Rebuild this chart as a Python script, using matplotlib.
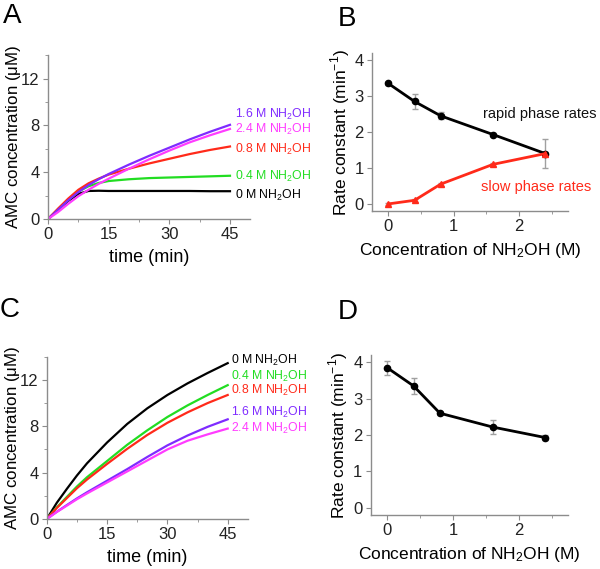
import matplotlib
matplotlib.use("Agg")
import matplotlib.pyplot as plt
from matplotlib.ticker import MultipleLocator

plt.rcParams['font.family'] = ['Liberation Sans', 'DejaVu Sans']
plt.rcParams['mathtext.fontset'] = 'custom'
plt.rcParams['mathtext.rm'] = 'Liberation Sans'

# ---- data ----
conc_labels = ["0 M", "0.4 M", "0.8 M", "1.6 M", "2.4 M"]
curve_colors = ["#000000", "#22dd22", "#ff2a1a", "#7f2bff", "#ff3cff"]

# panel A
t_a = [0, 2.5, 5, 7.5, 10, 12.5, 15, 20, 25, 30, 35, 40, 45]
a_0 = [0, 0.8, 1.55, 2.15, 2.4, 2.42, 2.4, 2.4, 2.4, 2.4, 2.4, 2.38, 2.38]
a_04 = [0, 0.85, 1.65, 2.35, 2.8, 3.08, 3.25, 3.4, 3.5, 3.55, 3.6, 3.65, 3.7]
a_08 = [0, 0.9, 1.75, 2.5, 3.05, 3.45, 3.8, 4.3, 4.75, 5.15, 5.55, 5.9, 6.2]
a_16 = [0, 0.8, 1.6, 2.3, 2.9, 3.4, 3.85, 4.65, 5.4, 6.1, 6.8, 7.45, 8.05]
a_24 = [0, 0.6, 1.3, 1.95, 2.5, 3.0, 3.45, 4.3, 5.1, 5.85, 6.55, 7.15, 7.7]
a_label_y = [2.0, 3.65, 5.95, 8.95, 7.65]

# panel C
t_c = [0, 2.5, 5, 7.5, 10, 15, 20, 25, 30, 35, 40, 45]
c_0 = [0, 1.4, 2.6, 3.75, 4.8, 6.6, 8.2, 9.55, 10.7, 11.7, 12.6, 13.45]
c_04 = [0, 1.0, 1.9, 2.8, 3.6, 5.0, 6.4, 7.65, 8.8, 9.8, 10.7, 11.55]
c_08 = [0, 0.95, 1.8, 2.65, 3.4, 4.75, 6.05, 7.25, 8.3, 9.2, 10.0, 10.7]
c_16 = [0, 0.62, 1.2, 1.77, 2.3, 3.3, 4.3, 5.35, 6.35, 7.2, 7.95, 8.6]
c_24 = [0, 0.6, 1.15, 1.7, 2.2, 3.15, 4.1, 5.05, 6.0, 6.75, 7.3, 7.8]
c_label_y = [13.7, 12.3, 11.1, 9.15, 7.85]

# panels B and D
nh2oh = [0, 0.4, 0.8, 1.6, 2.4]
rapid = [3.35, 2.85, 2.45, 1.93, 1.4]
rapid_err = [0.05, 0.22, 0.1, 0.05, 0.4]
slow = [0.0, 0.1, 0.55, 1.1, 1.4]
slow_err = [0.03, 0.04, 0.04, 0.04, 0.05]
rate_d = [3.85, 3.35, 2.6, 2.22, 1.93]
rate_d_err = [0.2, 0.22, 0.04, 0.18, 0.06]

NH2OH = r"$\mathregular{NH_2OH}$"
AX_GRAY = "#8c8c8c"


def style_axes(ax):
    for s in ["top", "right"]:
        ax.spines[s].set_visible(False)
    for s in ["left", "bottom"]:
        ax.spines[s].set_color(AX_GRAY)
        ax.spines[s].set_linewidth(1.0)
    ax.tick_params(which="both", direction="out", color=AX_GRAY, labelsize=12, labelcolor="#222222")
    ax.tick_params(which="major", length=3.5, pad=2.5)
    ax.tick_params(which="minor", length=2)


def kinetics_panel(ax, t, series, label_y, label_x, ylab_x):
    for ys, c in zip(series, curve_colors):
        ax.plot(t, ys, color=c, lw=1.6)
    for lab, c, y in zip(conc_labels, curve_colors, label_y):
        ax.text(label_x, y, lab + " " + NH2OH, color=c, fontsize=8.8, va="center", ha="left", clip_on=False)
    ax.set_xlim(0, 50)
    ax.set_ylim(0, 14)
    ax.set_xticks([0, 15, 30, 45])
    ax.xaxis.set_minor_locator(MultipleLocator(7.5))
    ax.set_yticks([0, 4, 8, 12])
    ax.yaxis.set_minor_locator(MultipleLocator(2))
    ax.set_xlabel("time (min)", fontsize=13, labelpad=5)
    ax.set_ylabel(r"AMC concentration ($\mathregular{\mu}$M)", fontsize=12.2)
    ax.yaxis.set_label_coords(ylab_x, 0.5)
    style_axes(ax)


def rate_panel(ax):
    ax.set_xlim(-0.25, 2.75)
    ax.set_ylim(-0.2, 4.2)
    ax.set_xticks([0, 1, 2])
    ax.xaxis.set_minor_locator(MultipleLocator(0.5))
    ax.set_yticks([0, 1, 2, 3, 4])
    ax.set_xlabel("Concentration of " + NH2OH + " (M)", fontsize=12.5, labelpad=5)
    ax.set_ylabel(r"Rate constant (min$^{\mathregular{-1}}$)", fontsize=12.5, labelpad=2)
    style_axes(ax)


fig = plt.figure(figsize=(6, 5.69), dpi=100)
axA = fig.add_axes([0.08, 0.615, 0.337, 0.288])
axB = fig.add_axes([0.62, 0.629, 0.327, 0.278])
axC = fig.add_axes([0.078, 0.088, 0.335, 0.285])
axD = fig.add_axes([0.618, 0.095, 0.329, 0.281])

kinetics_panel(axA, t_a, [a_0, a_04, a_08, a_16, a_24], a_label_y, 46.3, -0.125)
kinetics_panel(axC, t_c, [c_0, c_04, c_08, c_16, c_24], c_label_y, 45.8, -0.125)

# B
axB.errorbar(nh2oh, rapid, yerr=rapid_err, fmt="none", ecolor="#a0a0a0", elinewidth=1, capsize=2.5)
axB.errorbar(nh2oh, slow, yerr=slow_err, fmt="none", ecolor="#a0a0a0", elinewidth=1, capsize=2.5)
axB.plot(nh2oh, rapid, color="black", lw=2, marker="o", ms=4.5)
axB.plot(nh2oh, slow, color="#ff2a1a", lw=2, marker="^", ms=4.5)
axB.text(1.44, 2.5, "rapid phase rates", fontsize=10.5, color="#111111", va="center", clip_on=False)
axB.text(1.41, 0.47, "slow phase rates", fontsize=10.5, color="#ff2a1a", va="center", clip_on=False)
rate_panel(axB)

# D
axD.errorbar(nh2oh, rate_d, yerr=rate_d_err, fmt="none", ecolor="#a0a0a0", elinewidth=1, capsize=2.5)
axD.plot(nh2oh, rate_d, color="black", lw=2, marker="o", ms=4.5)
rate_panel(axD)

for lab, x, y in [("A", 0.005, 0.995), ("B", 0.563, 0.99), ("C", 0.0, 0.478), ("D", 0.563, 0.474)]:
    fig.text(x, y, lab, fontsize=20, va="top", ha="left")

fig.savefig("out.png", dpi=100)
